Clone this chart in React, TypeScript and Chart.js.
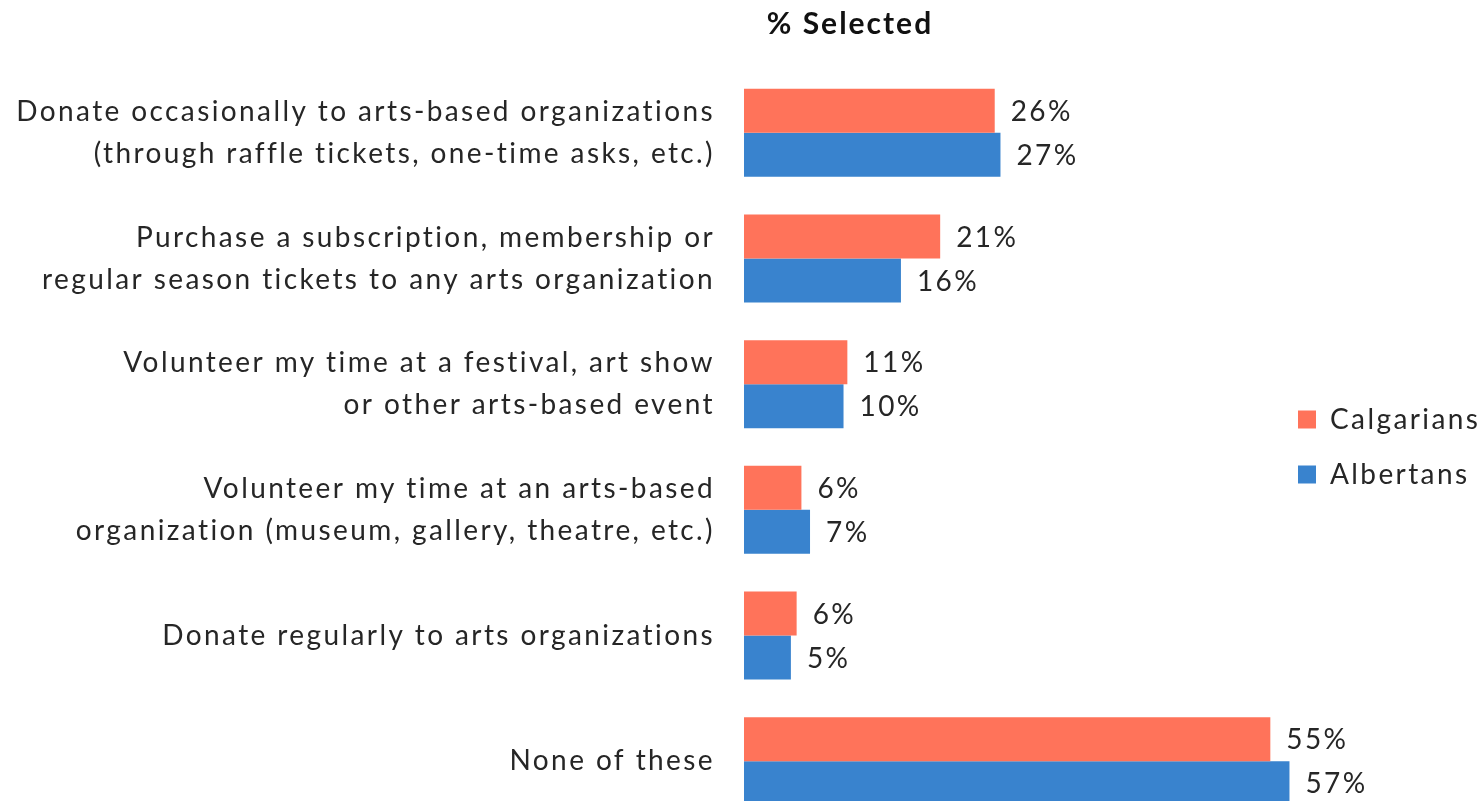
import React, { useEffect, useRef } from "react";
import { Chart, registerables } from "chart.js";

Chart.register(...registerables);

const categories: string[][] = [
  ["Donate occasionally to arts-based organizations", "(through raffle tickets, one-time asks, etc.)"],
  ["Purchase a subscription, membership or", "regular season tickets to any arts organization"],
  ["Volunteer my time at a festival, art show", "or other arts-based event"],
  ["Volunteer my time at an arts-based", "organization (museum, gallery, theatre, etc.)"],
  ["Donate regularly to arts organizations"],
  ["None of these"],
];

const calgarians = [26.2, 20.5, 10.8, 6.0, 5.5, 55.0];
const albertans = [26.8, 16.4, 10.4, 6.9, 4.9, 57.0];

const seriesNames = ["Calgarians", "Albertans"];
const seriesColors = ["#FF735A", "#3983CE"];
const chartTitle = "% Selected";

const FONT = "Lato, 'Open Sans', sans-serif";
const TEXT = "#262626";
const SPACING = "2.4px";

const spacingPlugin = {
  id: "letterSpacing",
  beforeLayout(chart: any) {
    chart.ctx.letterSpacing = SPACING;
  },
  beforeDraw(chart: any) {
    chart.ctx.letterSpacing = SPACING;
  },
};

const titlePlugin = {
  id: "customTitle",
  afterDraw(chart: any) {
    const ctx = chart.ctx;
    ctx.save();
    ctx.letterSpacing = "2px";
    ctx.font = `bold 30px ${FONT}`;
    ctx.fillStyle = "#111";
    ctx.textAlign = "center";
    ctx.textBaseline = "middle";
    ctx.fillText(chartTitle, 850, 24);
    ctx.restore();
  },
};

const valueLabels = {
  id: "valueLabels",
  afterDatasetsDraw(chart: any) {
    const ctx = chart.ctx;
    ctx.save();
    ctx.letterSpacing = SPACING;
    ctx.font = `28px ${FONT}`;
    ctx.fillStyle = TEXT;
    ctx.textAlign = "left";
    ctx.textBaseline = "middle";
    chart.data.datasets.forEach((ds: any, i: number) => {
      const meta = chart.getDatasetMeta(i);
      meta.data.forEach((bar: any, j: number) => {
        const v = ds.data[j];
        ctx.fillText(`${Math.round(v)}%`, bar.x + 16, bar.y + 1);
      });
    });
    ctx.restore();
  },
};

export default function App() {
  const ref = useRef<HTMLCanvasElement | null>(null);
  useEffect(() => {
    if (!ref.current) return;
    const chart = new Chart(ref.current, {
      type: "bar",
      data: {
        labels: categories,
        datasets: [
          { label: seriesNames[0], data: calgarians, backgroundColor: seriesColors[0], borderWidth: 0, clip: false },
          { label: seriesNames[1], data: albertans, backgroundColor: seriesColors[1], borderWidth: 0, clip: false },
        ],
      },
      options: {
        indexAxis: "y",
        responsive: true,
        maintainAspectRatio: false,
        animation: false,
        datasets: { bar: { categoryPercentage: 0.7, barPercentage: 1.0 } },
        layout: { padding: { top: 70, bottom: 0, left: 0, right: 0 } },
        scales: {
          x: { display: false, min: 0, max: 55.07 },
          y: {
            grid: { display: false },
            border: { display: false },
            ticks: {
              color: TEXT,
              padding: 21,
              font: { family: FONT, size: 28, lineHeight: 1.5 },
            },
            afterFit: (s: any) => {
              s.width = 744;
              s.paddingTop = 0;
              s.paddingBottom = 0;
            },
          },
        },
        plugins: {
          title: { display: false },
          tooltip: { enabled: false },
          legend: {
            position: "right",
            maxWidth: 212,
            labels: {
              boxWidth: 18,
              boxHeight: 18,
              padding: 27,
              color: TEXT,
              font: { family: FONT, size: 28 },
            },
          },
        },
      },
      plugins: [spacingPlugin, titlePlugin, valueLabels],
    });
    return () => chart.destroy();
  }, []);
  return (
    <div style={{ position: "fixed", left: 0, top: 0, width: 1483, height: 801, overflow: "hidden", background: "#fff" }}>
      <div style={{ position: "relative", width: 1483, height: 824 }}>
        <canvas ref={ref} />
      </div>
    </div>
  );
}
